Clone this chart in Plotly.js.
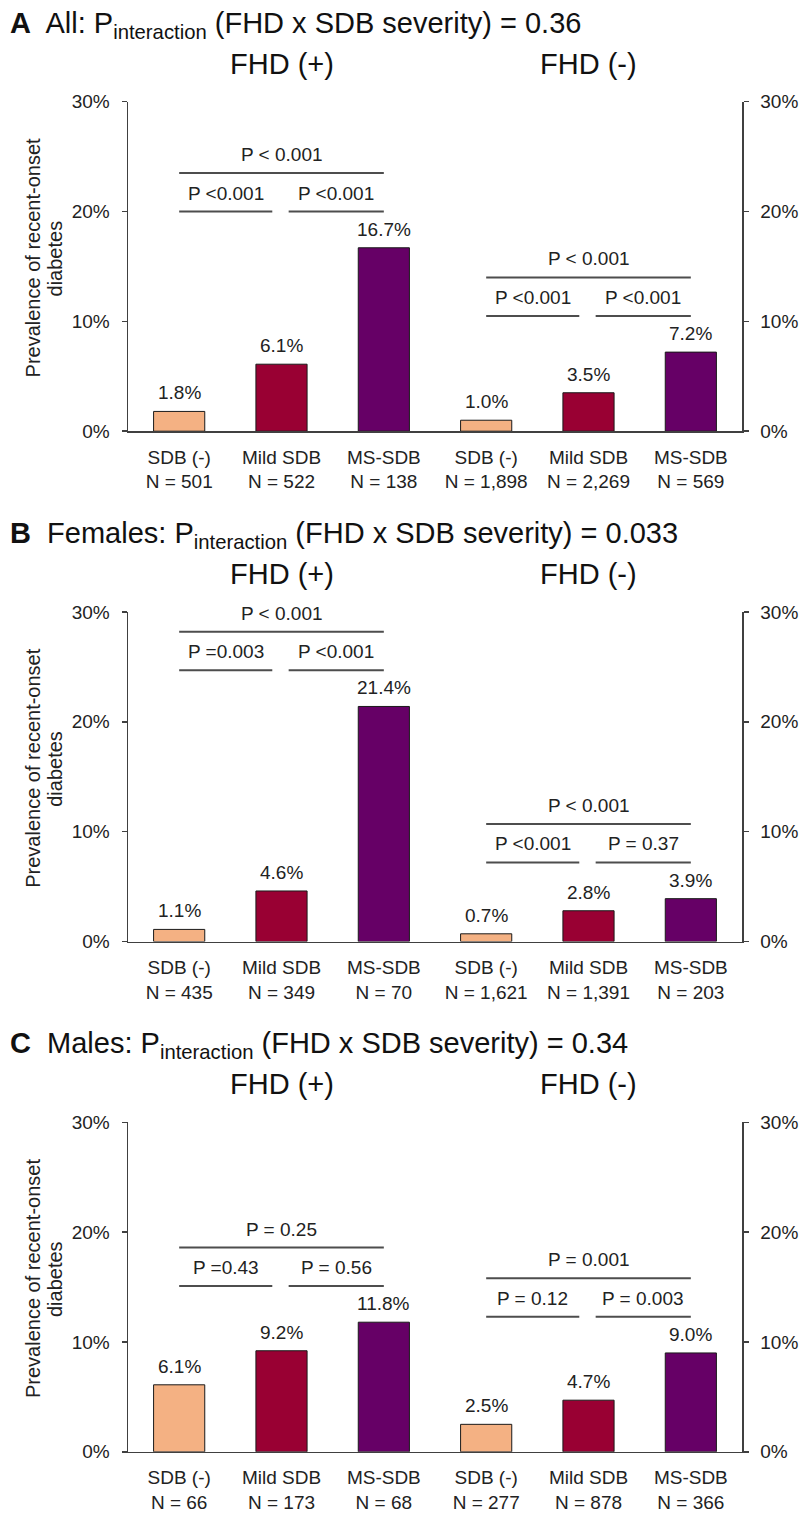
<!DOCTYPE html>
<html><head><meta charset="utf-8">
<script src="https://cdn.plot.ly/plotly-3.0.1.min.js"></script>
<style>html,body{margin:0;padding:0;background:#fff}</style>
</head><body><div id="chart" style="width:800px;height:1514px"></div>
<script>
// ---- data ----
const categories = ['SDB (-)','Mild SDB','MS-SDB','SDB (-)','Mild SDB','MS-SDB'];
const groupLabels = ['FHD (+)','FHD (-)'];
const panelLetters = ['A','B','C'];
const panelNames = ['All','Females','Males'];
const pInteraction = ['0.36','0.033','0.34'];
const valuesAll = [1.8, 6.1, 16.7, 1.0, 3.5, 7.2];
const valuesFemales = [1.1, 4.6, 21.4, 0.7, 2.8, 3.9];
const valuesMales = [6.1, 9.2, 11.8, 2.5, 4.7, 9.0];
const nAll = ['501','522','138','1,898','2,269','569'];
const nFemales = ['435','349','70','1,621','1,391','203'];
const nMales = ['66','173','68','277','878','366'];
// per group: [overall trend, SDB(-) vs Mild, Mild vs MS]
const pAll = [['P < 0.001','P <0.001','P <0.001'], ['P < 0.001','P <0.001','P <0.001']];
const pFemales = [['P < 0.001','P =0.003','P <0.001'], ['P < 0.001','P <0.001','P = 0.37']];
const pMales = [['P = 0.25','P =0.43','P = 0.56'], ['P = 0.001','P = 0.12','P = 0.003']];
const barColors = ['#F4B183','#990033','#660066','#F4B183','#990033','#660066'];
const yTicks = [0, 10, 20, 30];
const yTickText = ['0%', '10%', '20%', '30%'];
const yTitleLines = ['Prevalence of recent-onset', 'diabetes'];

const panels = [
  {values: valuesAll, n: nAll, p: pAll},
  {values: valuesFemales, n: nFemales, p: pFemales},
  {values: valuesMales, n: nMales, p: pMales}
];

// ---- layout geometry (pixels) ----
const W = 800, H = 1514;
const plotTop = [101.7, 612, 1122.3];
const plotH = 329.5;
const xLeft = 128, xRight = 742;
const FONT = 'Liberation Sans, Arial, sans-serif';
const TXT = '#222222';
const AXC = '#404040';
const py = v => 1 - v / H;

const traces = [];
const layout = {
  width: W, height: H,
  margin: {l: 0, r: 0, t: 0, b: 0},
  paper_bgcolor: '#fff', plot_bgcolor: 'rgba(0,0,0,0)',
  showlegend: false,
  font: {family: FONT, size: 19, color: TXT},
  annotations: [], shapes: []
};

panels.forEach((pn, i) => {
  const xs = i === 0 ? '' : String(i + 1);
  const yl = i === 0 ? '' : String(i + 1);
  const yr = String(i + 4);
  const xRef = 'x' + xs, yRef = 'y' + yl, yRRef = 'y' + yr;
  const dom = [py(plotTop[i] + plotH), py(plotTop[i])];
  const idx = categories.map((c, k) => k);

  traces.push({
    type: 'bar', x: idx, y: pn.values, width: 0.5,
    marker: {color: barColors, line: {color: '#1a1a1a', width: 1}},
    xaxis: xRef, yaxis: yRef, hoverinfo: 'skip'
  });
  traces.push({
    type: 'scatter', mode: 'markers', x: [idx[0]], y: [yTicks[0]],
    marker: {opacity: 0}, xaxis: xRef, yaxis: yRRef, hoverinfo: 'skip'
  });

  layout['xaxis' + xs] = {
    domain: [xLeft / W, xRight / W], range: [-0.5, 5.5], anchor: yRef,
    tickmode: 'array', tickvals: idx,
    ticktext: categories.map((c, k) => c + '<br>N = ' + pn.n[k]),
    showline: true, linecolor: AXC, linewidth: 1.5, ticks: '',
    showgrid: false, zeroline: false, fixedrange: true,
    tickfont: {size: 19, color: TXT}, ticklabelstandoff: 8
  };
  const yCommon = {
    domain: dom, range: [0, 30], tickmode: 'array', tickvals: yTicks, ticktext: yTickText,
    ticks: 'outside', ticklen: 5, tickcolor: AXC, tickwidth: 1.5,
    showline: true, linecolor: AXC, linewidth: 1.5,
    showgrid: false, zeroline: false, fixedrange: true,
    tickfont: {size: 19, color: TXT}, ticklabelstandoff: 8
  };
  layout['yaxis' + yl] = Object.assign({}, yCommon, {anchor: xRef, side: 'left'});
  layout['yaxis' + yr] = Object.assign({}, yCommon, {anchor: xRef, side: 'right', overlaying: yRef});

  // value labels
  pn.values.forEach((v, k) => {
    layout.annotations.push({
      x: k, y: v, xref: xRef, yref: yRef, text: v.toFixed(1) + '%',
      showarrow: false, yanchor: 'bottom', yshift: 6,
      font: {size: 19, color: TXT}
    });
  });

  // significance brackets
  [0, 1].forEach(g => {
    const base = 3 * g;
    const grp = pn.values.slice(base, base + 3);
    const ySub = Math.max(...grp) + 3.3;
    const yTop = ySub + 3.5;
    const segs = [[base, base + 2, yTop], [base, base + 0.91, ySub], [base + 1.07, base + 2, ySub]];
    segs.forEach(s => layout.shapes.push({
      type: 'line', xref: xRef, yref: yRef, x0: s[0], x1: s[1], y0: s[2], y1: s[2],
      line: {color: '#4d4d4d', width: 2}
    }));
    const txtPos = [[base + 1, yTop], [base + 0.455, ySub], [base + 1.535, ySub]];
    txtPos.forEach((tp, j) => layout.annotations.push({
      x: tp[0], y: tp[1], xref: xRef, yref: yRef, text: pn.p[g][j],
      showarrow: false, yanchor: 'bottom', yshift: 6,
      font: {size: 19, color: TXT}
    }));
    // group header
    layout.annotations.push({
      x: base + 1, y: py(plotTop[i] - 38), xref: xRef, yref: 'paper',
      text: groupLabels[g], showarrow: false, yanchor: 'middle',
      font: {size: 29, color: '#111'}
    });
  });

  // panel title
  layout.annotations.push({
    x: 8 / W, y: py(plotTop[i] - 77), xref: 'paper', yref: 'paper',
    xanchor: 'left', yanchor: 'middle', showarrow: false,
    text: '<b>' + panelLetters[i] + '</b>&nbsp; ' + panelNames[i] +
          ': P<sub>interaction</sub> (FHD x SDB severity) = ' + pInteraction[i],
    font: {size: 29, color: '#111'}
  });

  // y-axis title (two lines)
  yTitleLines.forEach((ln, j) => layout.annotations.push({
    x: (33 + 22 * j) / W, y: py(plotTop[i] + plotH / 2 - 8), xref: 'paper', yref: 'paper',
    text: ln, textangle: -90,
    showarrow: false, xanchor: 'center', yanchor: 'middle',
    font: {size: 20, color: TXT}
  }));
});

Plotly.newPlot('chart', traces, layout, {displayModeBar: false, staticPlot: true});
</script>
</body></html>
